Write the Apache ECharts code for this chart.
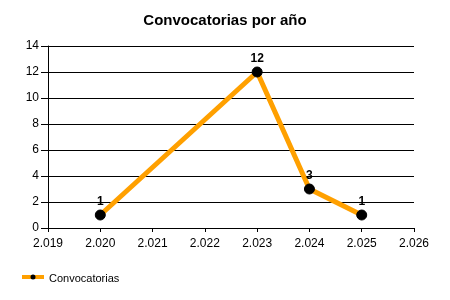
<!DOCTYPE html>
<html><head><meta charset="utf-8">
<script src="https://cdn.jsdelivr.net/npm/echarts@6/dist/echarts.min.js"></script>
<style>html,body{margin:0;padding:0;background:#fff}#c{width:450px;height:300px}</style>
</head><body><div id="c"></div>
<script>
var years = [2020, 2023, 2024, 2025];
var counts = [1, 12, 3, 1];
var seriesName = 'Convocatorias';
var titleText = 'Convocatorias por año';

var fmt = function(v){ var s = String(Math.round(v)); return s.length > 3 ? s.slice(0, s.length-3) + '.' + s.slice(-3) : s; };
var chart = echarts.init(document.getElementById('c'), null, {renderer:'canvas'});
chart.setOption({
  animation: false,
  backgroundColor: '#fff',
  title: { text: titleText, left: 'center', top: 8, textStyle: { fontFamily: 'Liberation Sans, Arial', fontSize: 15, fontWeight: 'bold', color: '#000' } },
  legend: { left: 15, top: 268, itemWidth: 24, itemHeight: 10, itemGap: 5,
    textStyle: { fontFamily: 'Liberation Sans, Arial', fontSize: 11, color: '#000' },
    data: [{ name: seriesName, icon: 'none' }] },
  grid: { left: 48, right: 36, top: 46, bottom: 72 },
  xAxis: { type: 'value', min: 2019, max: 2026, interval: 1,
    axisLine: { lineStyle: { color: '#000', width: 1 } },
    axisTick: { show: true, length: 4, lineStyle: { color: '#000' } },
    axisLabel: { formatter: fmt, color: '#000', fontFamily: 'Liberation Sans, Arial', fontSize: 12, margin: 10 },
    splitLine: { show: false } },
  yAxis: { type: 'value', min: 0, max: 14, interval: 2,
    axisLine: { show: true, lineStyle: { color: '#000', width: 1 } },
    axisTick: { show: true, length: 7, lineStyle: { color: '#000' } },
    axisLabel: { color: '#000', fontFamily: 'Liberation Sans, Arial', fontSize: 12, margin: 9 },
    splitLine: { show: true, lineStyle: { color: '#000', width: 1 } } },
  series: [{
    name: seriesName, type: 'line',
    data: years.map(function(y, i){ return [y, counts[i]]; }),
    lineStyle: { color: '#FFA000', width: 5 },
    itemStyle: { color: '#000', borderColor: '#000' },
    symbol: 'circle', symbolSize: 10, showAllSymbol: true,
    label: { show: true, position: 'top', distance: 2, color: '#000', fontWeight: 'bold', fontSize: 12, fontFamily: 'Liberation Sans, Arial' }
  }]
});
chart.setOption({ graphic: [
  { type: 'line', shape: { x1: 22, y1: 277, x2: 44, y2: 277 }, style: { stroke: '#FFA000', lineWidth: 4 } },
  { type: 'circle', shape: { cx: 33, cy: 277, r: 2.5 }, style: { fill: '#000' } }
]});
</script></body></html>
